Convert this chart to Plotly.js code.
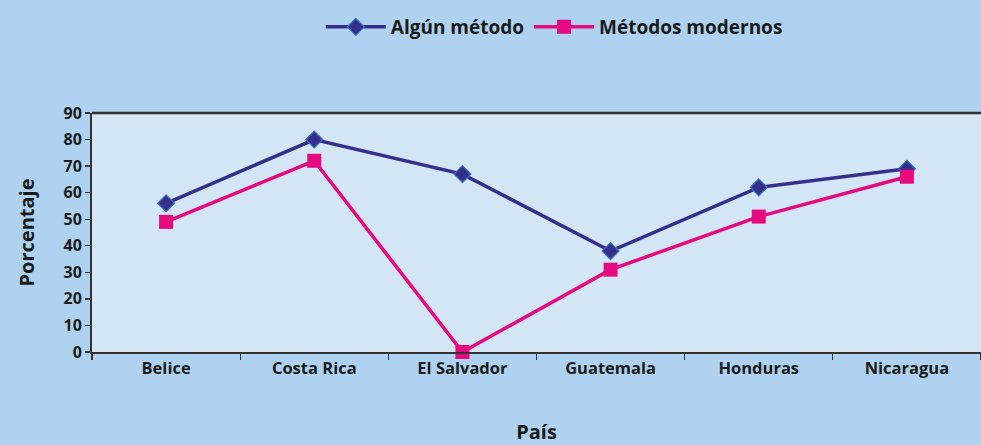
<!DOCTYPE html>
<html>
<head>
<meta charset="utf-8">
<script src="https://cdn.plot.ly/plotly-3.0.1.min.js"></script>
<style>html,body{margin:0;padding:0;background:#aed2ef;}</style>
</head>
<body>
<div id="chart" style="width:981px;height:445px;"></div>
<script>
const paises = ["Belice", "Costa Rica", "El Salvador", "Guatemala", "Honduras", "Nicaragua"];
const algunMetodo = [56, 80, 67, 38, 62, 69];
const metodosModernos = [49, 72, 0, 31, 51, 66];
const yTicks = [0, 10, 20, 30, 40, 50, 60, 70, 80, 90];

const fontFam = "'Open Sans', 'Noto Sans', sans-serif";
const txt = "#1a1a1a";

const traces = [
  {
    x: paises, y: algunMetodo, name: "Algún método", type: "scatter", mode: "lines+markers",
    line: {color: "#352e8c", width: 3.5},
    marker: {symbol: "diamond", size: 13, color: "#352e8c", line: {color: "#3d73c4", width: 1.2}},
    cliponaxis: false
  },
  {
    x: paises, y: metodosModernos, name: "Métodos modernos", type: "scatter", mode: "lines+markers",
    line: {color: "#e6097f", width: 3.5},
    marker: {symbol: "square", size: 14, color: "#e6097f"},
    cliponaxis: false
  }
];

const layout = {
  width: 981, height: 445,
  paper_bgcolor: "#aed2ef",
  plot_bgcolor: "#d3e6f5",
  margin: {l: 92, r: 0, t: 113, b: 93},
  font: {family: fontFam, color: txt},
  showlegend: true,
  legend: {
    orientation: "h", x: 0.52, xanchor: "center", y: 1 - 8/445, yref: "container", yanchor: "top",
    font: {size: 19, weight: "bold", family: fontFam, color: txt},
    bgcolor: "rgba(0,0,0,0)", itemwidth: 60
  },
  xaxis: {
    type: "category",
    tickson: "boundaries",
    ticks: "outside", ticklen: 6, tickcolor: "#333", tickwidth: 1.3,
    showline: true, linecolor: "#333", linewidth: 2, mirror: false,
    showgrid: false,
    tickfont: {size: 16.5, weight: "bold", family: fontFam, color: txt},
    title: {text: "País", font: {size: 20, weight: "bold", family: fontFam, color: txt}, standoff: 50},
    range: [-0.5, 5.5]
  },
  yaxis: {
    range: [0, 90],
    tickvals: yTicks,
    ticks: "outside", ticklen: 5, tickcolor: "#333", tickwidth: 1.3,
    showline: true, linecolor: "#333", linewidth: 2,
    showgrid: false, zeroline: false,
    tickfont: {size: 16, weight: "bold", family: fontFam, color: txt},
    title: {text: "Porcentaje", font: {size: 20, weight: "bold", family: fontFam, color: txt}, standoff: 24}
  },
  shapes: [
    {type: "line", xref: "paper", yref: "paper", x0: 0, x1: 1, y0: 1, y1: 1, line: {color: "#333", width: 2.5}}
  ]
};

Plotly.newPlot("chart", traces, layout, {displayModeBar: false, staticPlot: true});
</script>
</body>
</html>
